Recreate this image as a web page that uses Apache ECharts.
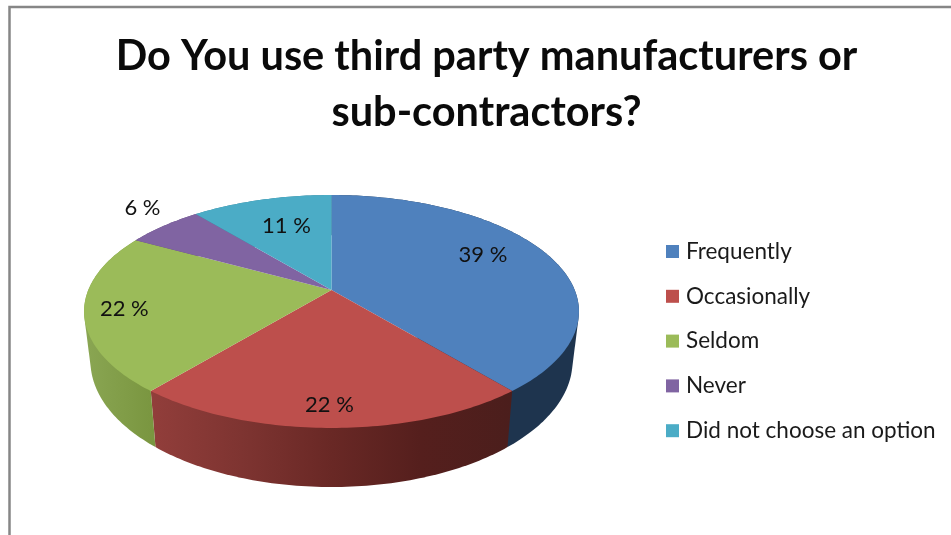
<!DOCTYPE html>
<html>
<head>
<meta charset="utf-8">
<style>html,body{margin:0;padding:0;background:#fff}#chart{width:951px;height:535px}</style>
<script src="https://cdn.jsdelivr.net/npm/echarts@6/dist/echarts.min.js"></script>
</head>
<body>
<div id="chart"></div>
<script>
const chartTitle = 'Do You use third party manufacturers or\nsub-contractors?';
const categories = ['Frequently', 'Occasionally', 'Seldom', 'Never', 'Did not choose an option'];
const shares = [39, 22, 22, 6, 11];
const sliceColors = ['#4f81bd', '#bd4f4c', '#9bbb59', '#8064a2', '#4bacc6'];

// Radial placement of each percentage label, as a fraction of the disc radius,
// followed by a small pixel nudge.
const labelRadius = [0.7, 0.86, 0.85, 1.2, 0.68];
const labelNudge = [[-2, -10], [-2, 0], [2, 0], [8, -7], [5, 0]];

// Perspective model of the pie: a unit disc seen through a projective map.
const tilt = 0.1845;
const topDisc = { cx: 331.5, cy: 290, a: 243.2, b: 112.5 };
const baseDisc = { cx: 331.5, cy: 337.8, a: 236.9, b: 121.7 };

// Horizontal shading of the side wall for each slice.
const wallStops = [
  [[332, '#1e344e'], [579, '#1e344e']],
  [[150, '#923e3b'], [250, '#7c3330'], [332, '#692825'], [420, '#551f1d'], [512, '#4b1e1c']],
  [[84, '#8aa653'], [152, '#7a9640']],
  [[84, '#5f4a7a'], [200, '#5f4a7a']],
  [[190, '#357f93'], [332, '#357f93']]
];

const total = shares.reduce((s, v) => s + v, 0);
const startFraction = shares.map((_, i) => shares.slice(0, i).reduce((s, v) => s + v, 0) / total);

function project(disc, fraction, radius) {
  const t = 2 * Math.PI * fraction;
  const u = Math.sin(t) * radius;
  const v = -Math.cos(t) * radius;
  const d = 1 - tilt * v;
  return [disc.cx + disc.a * u / d, disc.cy + disc.b * v / d];
}

function rimPoints(disc, from, to) {
  const steps = Math.max(8, Math.ceil((to - from) * 360));
  const pts = [];
  for (let i = 0; i <= steps; i++) {
    pts.push(project(disc, from + (to - from) * i / steps, 1));
  }
  return pts;
}

// Monotone-chain hull: closes the straight silhouette between the two discs.
function convexHull(points) {
  const pts = points.slice().sort((p, q) => p[0] - q[0] || p[1] - q[1]);
  const cross = (o, a, b) => (a[0] - o[0]) * (b[1] - o[1]) - (a[1] - o[1]) * (b[0] - o[0]);
  const sweep = list => {
    const chain = [];
    for (const p of list) {
      while (chain.length >= 2 && cross(chain[chain.length - 2], chain[chain.length - 1], p) <= 0) chain.pop();
      chain.push(p);
    }
    chain.pop();
    return chain;
  };
  return sweep(pts).concat(sweep(pts.slice().reverse()));
}

function renderWall(params, api) {
  const i = params.dataIndex;
  const from = startFraction[i];
  const to = from + api.value(0) / total;
  const outline = convexHull(rimPoints(topDisc, from, to).concat(rimPoints(baseDisc, from, to)));
  const stops = wallStops[i];
  const x0 = stops[0][0];
  const x1 = stops[stops.length - 1][0];
  return {
    type: 'polygon',
    shape: { points: outline },
    style: {
      fill: new echarts.graphic.LinearGradient(x0, 0, x1, 0,
        stops.map(s => ({ offset: (s[0] - x0) / (x1 - x0), color: s[1] })), true)
    }
  };
}

function sliceRenderer(i) {
  return function (params, api) {
    const from = startFraction[i];
    const to = from + api.value(0) / total;
    const mid = (from + to) / 2;
    const anchor = project(topDisc, mid, labelRadius[i]);
    return {
      type: 'group',
      children: [
        {
          type: 'polygon',
          shape: { points: [project(topDisc, 0, 0)].concat(rimPoints(topDisc, from, to)) },
          style: { fill: sliceColors[i] }
        },
        {
          type: 'text',
          z2: 10,
          style: {
            text: api.value(0) + ' %',
            x: anchor[0] + labelNudge[i][0],
            y: anchor[1] + labelNudge[i][1],
            fill: '#111',
            fontSize: 22,
            fontFamily: 'Lato',
            align: 'center',
            verticalAlign: 'middle'
          }
        }
      ]
    };
  };
}

const chart = echarts.init(document.getElementById('chart'), null, { renderer: 'canvas' });
chart.setOption({
  animation: false,
  backgroundColor: '#ffffff',
  color: sliceColors,
  title: {
    text: chartTitle,
    left: 481.5,
    top: 24,
    padding: 5,
    textAlign: 'center',
    textStyle: { fontFamily: 'Lato', fontWeight: 'bold', fontSize: 41.5, lineHeight: 56, color: '#0a0a0a' }
  },
  legend: {
    data: categories,
    orient: 'vertical',
    left: 666,
    top: 240,
    padding: 0,
    icon: 'rect',
    itemWidth: 13,
    itemHeight: 13,
    itemGap: 21.8,
    selectedMode: false,
    textStyle: { fontFamily: 'Lato', fontSize: 22.5, lineHeight: 23, color: '#1a1a1a', padding: [0, 0, 0, 2] }
  },
  graphic: [{
    type: 'rect',
    silent: true,
    shape: { x: 9.5, y: 7, width: 1200, height: 800 },
    style: { fill: 'none', stroke: '#868686', lineWidth: 2.5 }
  }],
  series: [
    {
      type: 'custom',
      name: 'wall',
      coordinateSystem: 'none',
      z: 2,
      silent: true,
      renderItem: renderWall,
      data: shares.map(v => [v])
    }
  ].concat(categories.map((name, i) => ({
    type: 'custom',
    name,
    coordinateSystem: 'none',
    z: 3,
    silent: true,
    itemStyle: { color: sliceColors[i] },
    renderItem: sliceRenderer(i),
    data: [[shares[i]]]
  })))
});
</script>
</body>
</html>
